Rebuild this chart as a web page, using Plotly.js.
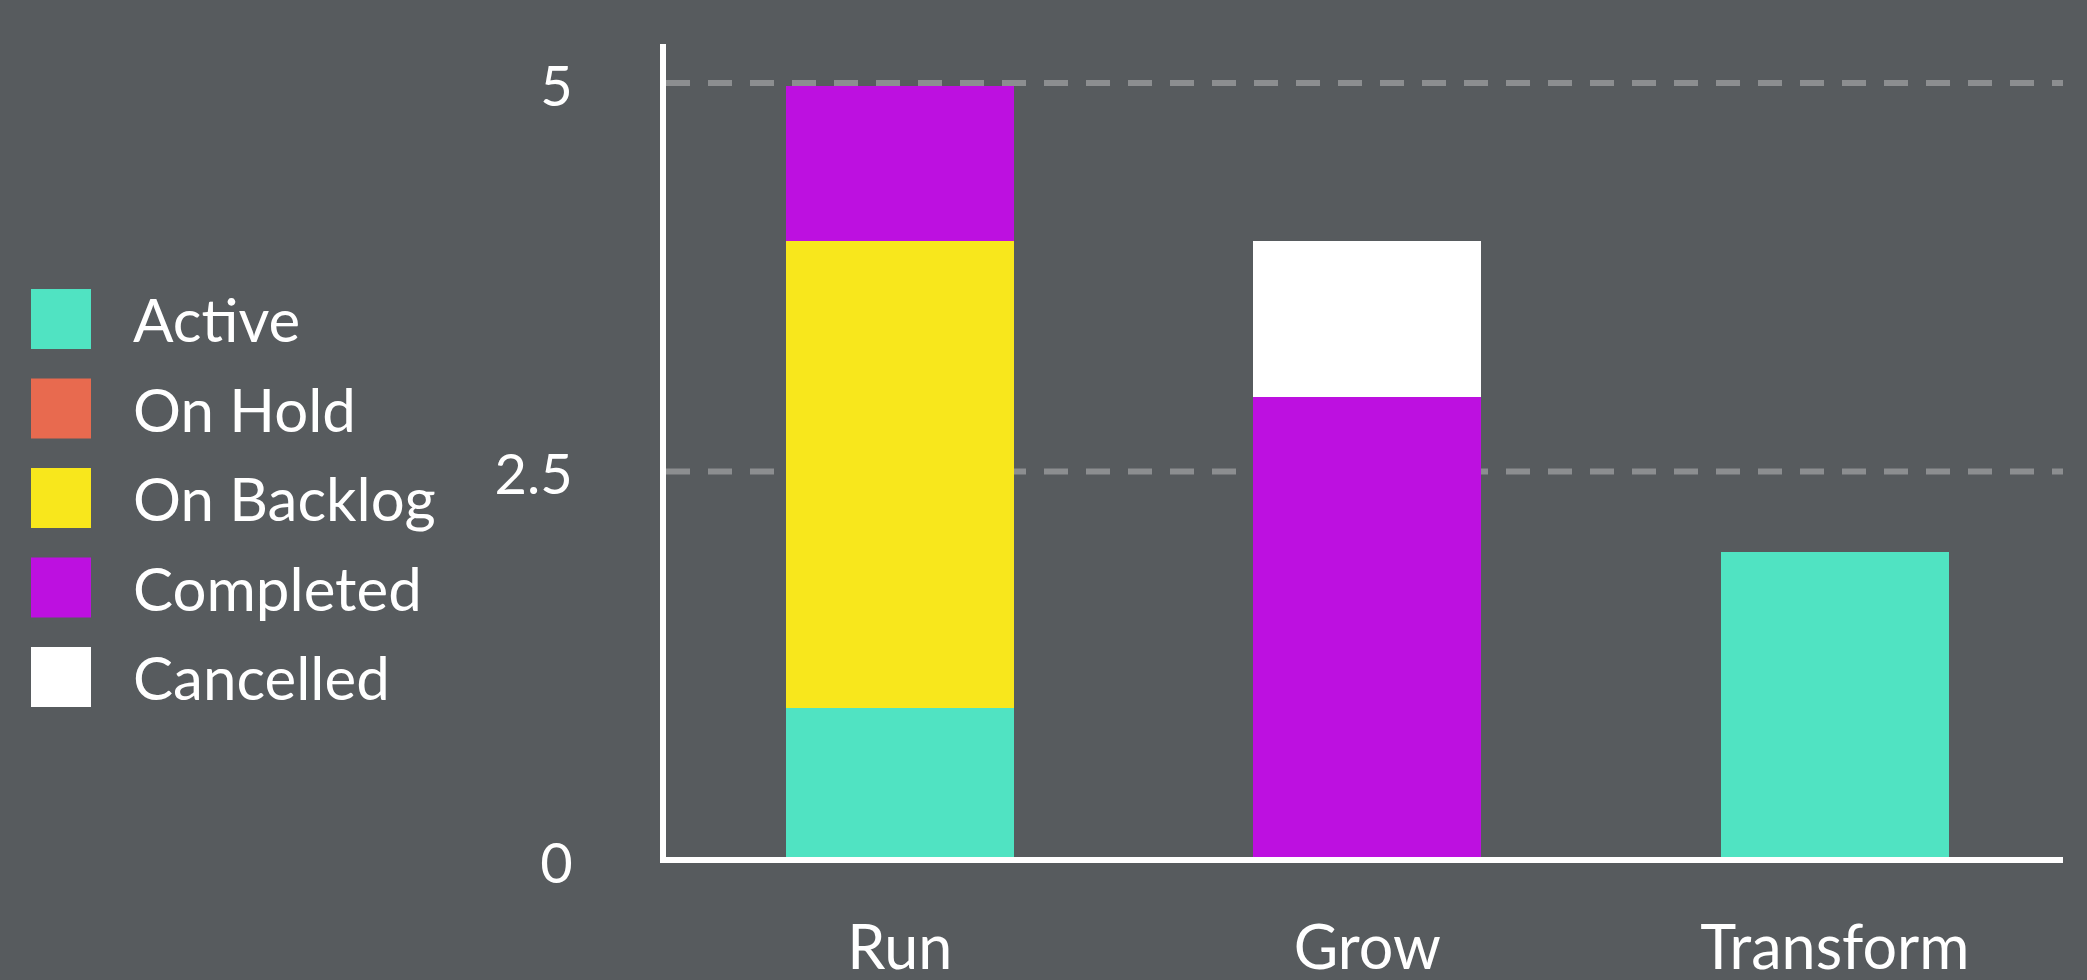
<!DOCTYPE html>
<html>
<head>
<meta charset="utf-8">
<script src="https://cdn.plot.ly/plotly-3.0.1.min.js"></script>
<style>
  html, body { margin: 0; padding: 0; background: #575B5E; }
  #chart { width: 2087px; height: 980px; }
</style>
</head>
<body>
<div id="chart"></div>
<script>
// ---- data ----
const categories = ['Run', 'Grow', 'Transform'];
const seriesNames = ['Active', 'On Hold', 'On Backlog', 'Completed', 'Cancelled'];
const active     = [1, 0, 2];
const onHold     = [0, 0, 0];
const onBacklog  = [3, 0, 0];
const completed  = [1, 3, 0];
const cancelled  = [0, 1, 0];
const yTickVals  = [0, 2.5, 5];
const yTickText  = ['0', '2.5', '5'];

// ---- style ----
const seriesColors = ['#50E3C2', '#E86A4F', '#F8E71C', '#BD10E0', '#FFFFFF'];
const seriesValues = [active, onHold, onBacklog, completed, cancelled];
const BG = '#575B5E';
const FONT = 'Lato, "Open Sans", sans-serif';
const GRID = '#8C8E90';

const W = 2087, H = 980;
const M = { l: 666, r: 24, t: 44, b: 117 };
const plotW = W - M.l - M.r, plotH = H - M.t - M.b;
const px2x = px => (px - M.l) / plotW;
const px2y = py => 1 - (py - M.t) / plotH;
const AXIS_LW = 6;
const LINE_SHIFT = 3; // axis line / grid sit half a line width above the bar base

const traces = seriesNames.map((name, i) => ({
  type: 'bar',
  name: name,
  x: categories,
  y: seriesValues[i],
  marker: { color: seriesColors[i], line: { width: 0 } },
  hoverinfo: 'skip'
}));

const shapes = [];
const annotations = [];

// dashed gridlines (skip the one lying on the x axis line)
yTickVals.filter(v => v > 0).forEach(v => {
  shapes.push({
    type: 'line', layer: 'below',
    xref: 'paper', x0: 0, x1: 1,
    yref: 'y', ysizemode: 'pixel', yanchor: v, y0: LINE_SHIFT, y1: LINE_SHIFT,
    line: { color: GRID, width: 6, dash: '24px,18px' }
  });
});

// custom legend (large square swatches)
seriesNames.forEach((name, i) => {
  const cy = 319 + i * 89.5;
  shapes.push({
    type: 'rect', xref: 'paper', yref: 'paper',
    x0: px2x(31), x1: px2x(91), y0: px2y(cy + 30), y1: px2y(cy - 30),
    fillcolor: seriesColors[i], line: { width: 0 }
  });
  annotations.push({
    xref: 'paper', yref: 'paper', x: px2x(131), y: px2y(cy),
    xanchor: 'left', yanchor: 'middle', showarrow: false,
    text: name, font: { family: FONT, size: 60, color: '#FFFFFF' }
  });
});

const layout = {
  width: W, height: H,
  paper_bgcolor: BG, plot_bgcolor: BG,
  margin: M,
  barmode: 'stack',
  bargap: 0.512,
  showlegend: false,
  font: { family: FONT, color: '#FFFFFF' },
  xaxis: {
    type: 'category',
    range: [-0.5, 2.488],
    anchor: 'free', position: LINE_SHIFT / plotH,
    showline: true, linecolor: '#FFFFFF', linewidth: AXIS_LW, layer: 'above traces',
    showgrid: false, zeroline: false, ticks: '',
    tickfont: { family: FONT, size: 61, color: '#FFFFFF' },
    ticklabelstandoff: 33
  },
  yaxis: {
    range: [0, 5.27],
    tickvals: yTickVals, ticktext: yTickText,
    showline: true, linecolor: '#FFFFFF', linewidth: AXIS_LW,
    showgrid: false, zeroline: false, ticks: '',
    ticklabelshift: 0,
    tickfont: { family: FONT, size: 56, color: '#FFFFFF' },
    ticklabelstandoff: 76
  },
  shapes: shapes,
  annotations: annotations
};

Plotly.newPlot('chart', traces, layout, { displayModeBar: false, staticPlot: true });
</script>
</body>
</html>
